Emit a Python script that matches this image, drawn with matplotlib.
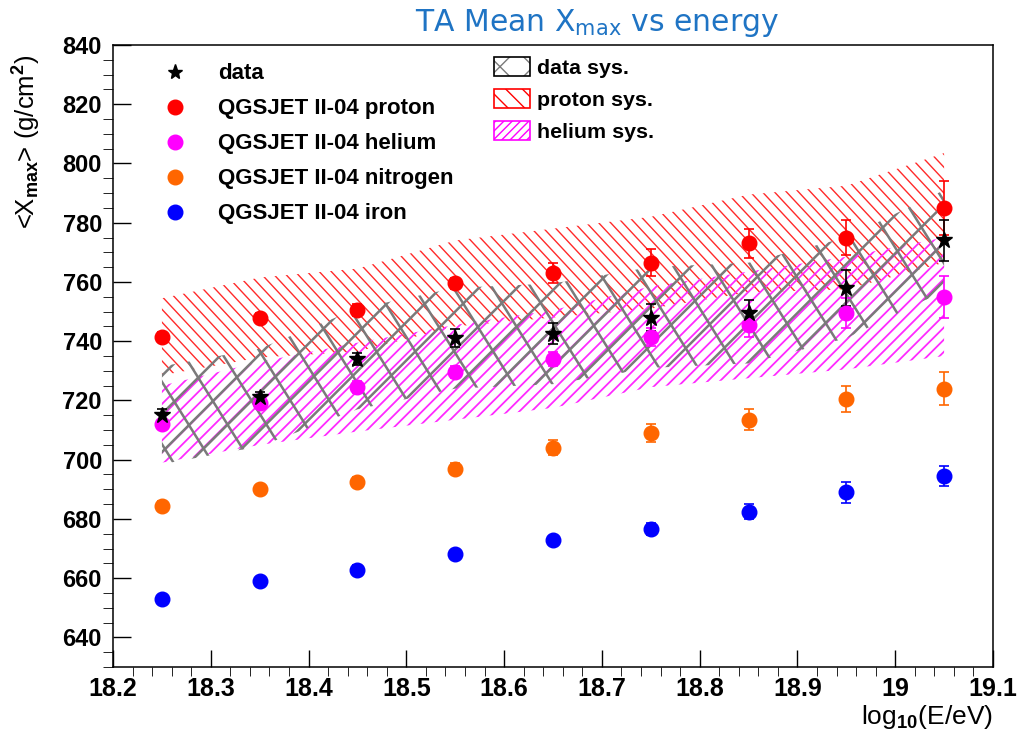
import numpy as np
import matplotlib.pyplot as plt
from matplotlib.patches import Patch
from matplotlib.lines import Line2D
from matplotlib.collections import LineCollection
from matplotlib.ticker import MultipleLocator, FixedFormatter, FixedLocator

plt.rcParams['font.family'] = ['Liberation Sans', 'DejaVu Sans']
plt.rcParams['font.weight'] = 'bold'
plt.rcParams['mathtext.fontset'] = 'custom'
plt.rcParams['mathtext.rm'] = 'Liberation Sans:bold'
plt.rcParams['mathtext.it'] = 'Liberation Sans:bold'
plt.rcParams['mathtext.bf'] = 'Liberation Sans:bold'
plt.rcParams['mathtext.sf'] = 'DejaVu Sans:normal'
plt.rcParams['mathtext.default'] = 'rm'
plt.rcParams['hatch.linewidth'] = 1.0

# --- data ---
log_e = [18.25, 18.35, 18.45, 18.55, 18.65, 18.75, 18.85, 18.95, 19.05]

data_xmax = [715, 721, 734, 741, 742.5, 748, 749.5, 758, 774]
data_err = [2, 2, 2, 3, 3.5, 4.5, 4.5, 6, 7]
data_sys = [16.5, 16.5, 17, 17, 17, 17, 17, 17, 17]

proton = [741.5, 748, 750.5, 759.5, 763, 766.5, 773, 775, 785]
proton_err = [1.5, 1.5, 2, 2, 3.5, 4.5, 5, 6, 9]
proton_sys = [13, 13.5, 14, 14.5, 15, 15.5, 16.5, 17.5, 18.5]

helium = [712, 719, 724.5, 729.5, 734, 741.5, 745.5, 749.5, 755]
helium_err = [1.5, 1.5, 2, 2, 2.5, 3, 4, 5, 7]
helium_sys = [13, 14, 15, 16, 16.5, 17, 18, 19, 20]

nitrogen = [684.5, 690, 692.5, 697, 704, 709, 713.5, 720.5, 724]
nitrogen_err = [1.5, 1.5, 1.5, 2, 2.5, 3, 3.5, 4.5, 5.5]

iron = [653, 659, 662.8, 668, 672.8, 676.5, 682.5, 689, 694.5]
iron_err = [1, 1, 1.5, 1.5, 1.5, 2, 2.5, 3.5, 3.5]

x_ticks = [18.2, 18.3, 18.4, 18.5, 18.6, 18.7, 18.8, 18.9, 19.0, 19.1]
x_tick_labels = ['18.2', '18.3', '18.4', '18.5', '18.6', '18.7', '18.8', '18.9', '19', '19.1']

fig = plt.figure(figsize=(10.24, 7.33), dpi=100)
ax = fig.add_axes([0.1104, 0.09, 0.8593, 0.8486])
ax.set_xlim(18.2, 19.1)
ax.set_ylim(630, 840)


def hatch_band(x, lo, hi, angle, spacing_px, color, lw, z):
    # draw a hatched band by clipping a field of parallel lines to the band
    poly = ax.fill_between(x, lo, hi, facecolor='none', edgecolor='none', lw=0)
    W, H = fig.get_size_inches()
    th = np.deg2rad(angle)
    d = np.array([np.cos(th), np.sin(th)])
    n = np.array([-np.sin(th), np.cos(th)])
    L = W + H
    c = np.array([W / 2, H / 2])
    segs = [[c + o * n - L * d, c + o * n + L * d]
            for o in np.arange(-L, L, spacing_px / fig.dpi)]
    lc = LineCollection(segs, colors=color, linewidths=lw,
                        transform=fig.dpi_scale_trans, zorder=z)
    ax.add_collection(lc, autolim=False)
    lc.set_clip_path(poly.get_paths()[0], ax.transData)


x = np.array(log_e)
hatch_band(x, np.array(proton) - proton_sys, np.array(proton) + proton_sys,
           -47, 8.8, '#ff2a2a', 1.0, 1)
hatch_band(x, np.array(helium) - helium_sys, np.array(helium) + helium_sys,
           45, 8.6, '#ff2aff', 1.3, 1.1)
hatch_band(x, np.array(data_xmax) - data_sys, np.array(data_xmax) + data_sys,
           45, 27, '#7a7a7a', 1.8, 1.2)
hatch_band(x, np.array(data_xmax) - data_sys, np.array(data_xmax) + data_sys,
           -58, 33, '#7a7a7a', 1.8, 1.2)

eb = dict(ls='none', capsize=3.5, elinewidth=1.2, capthick=1.2, zorder=3)
ax.errorbar(log_e, proton, yerr=proton_err, marker='o', ms=10.5, color='#ff0000', **eb)
ax.errorbar(log_e, helium, yerr=helium_err, marker='o', ms=10.5, color='#ff00ff', **eb)
ax.errorbar(log_e, nitrogen, yerr=nitrogen_err, marker='o', ms=10.5, color='#ff6600', **eb)
ax.errorbar(log_e, iron, yerr=iron_err, marker='o', ms=10.5, color='#0000ff', **eb)
ax.errorbar(log_e, data_xmax, yerr=data_err, marker='*', ms=12, color='black', **eb)

# axes styling
for s in ax.spines.values():
    s.set_linewidth(1.1)
ax.xaxis.set_major_locator(FixedLocator(x_ticks))
ax.xaxis.set_major_formatter(FixedFormatter(x_tick_labels))
ax.xaxis.set_minor_locator(MultipleLocator(0.02))
ax.yaxis.set_major_locator(MultipleLocator(20))
ax.yaxis.set_minor_locator(MultipleLocator(5))
ax.tick_params(direction='in', top=False, right=False, width=1.0)
ax.tick_params(axis='x', which='major', length=12, pad=7, labelsize=18)
ax.tick_params(axis='x', which='minor', length=6.5)
ax.tick_params(axis='y', which='major', length=13, pad=8, labelsize=17)
ax.tick_params(axis='y', which='minor', length=7.5)

ax.set_ylabel(r'<X$_{max}$> (g/cm$^{2}$)', fontsize=18.5)
ax.yaxis.set_label_coords(-0.08, 0.844)
ax.set_xlabel(r'log$_{10}$(E/eV)', fontsize=19, loc='right')
ax.xaxis.set_label_coords(1.0, -0.058)

fig.text(0.583, 0.968, r'TA Mean X$_{\mathsf{max}}$ vs energy', ha='center', va='center',
         fontsize=21.5, color='#1f74c4', family='DejaVu Sans', weight='normal')

# legends
h1 = [Line2D([], [], ls='none', marker='*', ms=11, color='black'),
      Line2D([], [], ls='none', marker='o', ms=10.5, color='#ff0000'),
      Line2D([], [], ls='none', marker='o', ms=10.5, color='#ff00ff'),
      Line2D([], [], ls='none', marker='o', ms=10.5, color='#ff6600'),
      Line2D([], [], ls='none', marker='o', ms=10.5, color='#0000ff')]
l1 = ['data', 'QGSJET II-04 proton', 'QGSJET II-04 helium',
      'QGSJET II-04 nitrogen', 'QGSJET II-04 iron']
leg1 = ax.legend(h1, l1, loc='upper left', bbox_to_anchor=(0.0517, 0.9706),
                 frameon=False, fontsize=16, handlelength=1.5, handletextpad=1.16,
                 labelspacing=0.63, borderpad=0, borderaxespad=0)
ax.add_artist(leg1)

h2 = [(Patch(facecolor='none', edgecolor='#7a7a7a', hatch='x', lw=0),
       Patch(facecolor='none', edgecolor='black', lw=1.2)),
      Patch(facecolor='none', edgecolor='#ff0000', hatch='\\\\', lw=1.2),
      Patch(facecolor='none', edgecolor='#ff00ff', hatch='////', lw=1.2)]
l2 = ['data sys.', 'proton sys.', 'helium sys.']
ax.legend(h2, l2, loc='upper left', bbox_to_anchor=(0.433, 0.981),
          frameon=False, fontsize=15.4, handlelength=1.68, handleheight=1.03,
          handletextpad=0.33, labelspacing=0.51, borderpad=0, borderaxespad=0)

fig.savefig('out.png', dpi=100)
